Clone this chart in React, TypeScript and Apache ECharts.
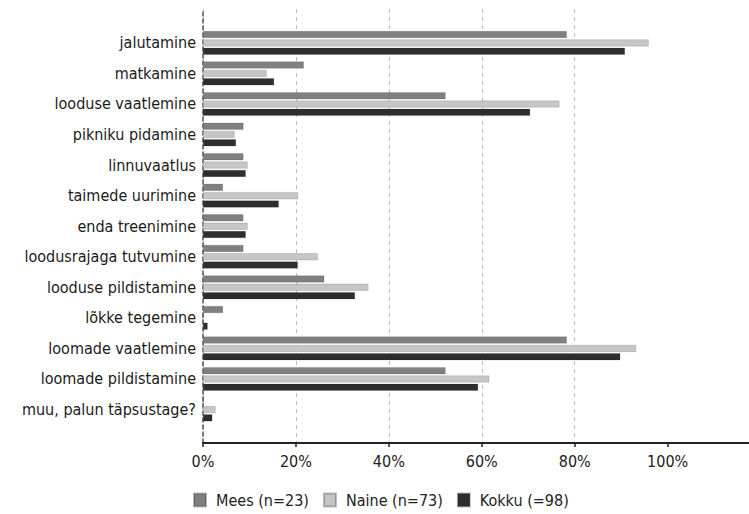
import React, { useEffect, useRef } from "react";
import * as echarts from "echarts";

const categories = [
  "jalutamine",
  "matkamine",
  "looduse vaatlemine",
  "pikniku pidamine",
  "linnuvaatlus",
  "taimede uurimine",
  "enda treenimine",
  "loodusrajaga tutvumine",
  "looduse pildistamine",
  "lõkke tegemine",
  "loomade vaatlemine",
  "loomade pildistamine",
  "muu, palun täpsustage?",
];

const seriesNames = ["Mees (n=23)", "Naine (n=73)", "Kokku (=98)"];
const mees = [78.3, 21.7, 52.2, 8.7, 8.7, 4.3, 8.7, 8.7, 26.1, 4.3, 78.3, 52.2, 0];
const naine = [95.9, 13.7, 76.7, 6.8, 9.6, 20.5, 9.6, 24.7, 35.6, 0, 93.2, 61.6, 2.7];
const kokku = [90.8, 15.3, 70.4, 7.1, 9.2, 16.3, 9.2, 20.4, 32.7, 1.0, 89.8, 59.2, 2.0];
const xTicks = [0, 20, 40, 60, 80, 100];
const xMax = 117.5;

const colors = ["#808080", "#c6c6c6", "#2e2e2e"];
const FONT = "DejaVu Sans Condensed";

export default function App() {
  const ref = useRef<HTMLDivElement>(null);
  useEffect(() => {
    const chart = echarts.init(ref.current!, undefined, { renderer: "svg" });
    const values = [mees, naine, kokku];
    chart.setOption({
      animation: false,
      grid: [
        { left: 203, right: 0, top: 9, bottom: 71 },
        { left: 203, right: 0, top: 27.6, bottom: 89.2 },
      ],
      legend: {
        bottom: 1,
        left: 188,
        itemWidth: 12,
        itemHeight: 13,
        itemGap: 14,
        icon: "rect",
        textStyle: { fontFamily: FONT, fontSize: 16, color: "#222", padding: [0, 0, 0, 5] },
        data: seriesNames,
      },
      xAxis: [
        {
          gridIndex: 0,
          type: "value",
          min: 0,
          max: xMax,
          interval: 20,
          axisLine: { show: true, lineStyle: { color: "#222", width: 2 } },
          axisTick: {
            show: true,
            length: 4,
            lineStyle: { color: "#222", width: 1.5 },
            customValues: xTicks,
          },
          axisLabel: {
            fontFamily: FONT,
            fontSize: 16,
            color: "#222",
            margin: 10,
            customValues: xTicks,
            formatter: (v: number) => v + "%",
          },
          splitLine: {
            show: true,
            showMaxLine: false,
            lineStyle: { color: "#bdbdbd", type: [4, 4], width: 1 },
          },
        },
        {
          gridIndex: 1,
          type: "value",
          min: 0,
          max: xMax,
          interval: 20,
          show: false,
          splitLine: { show: false },
        },
      ],
      yAxis: [
        {
          gridIndex: 0,
          type: "value",
          min: 0,
          max: 1,
          axisLine: { show: true, lineStyle: { color: "#555", type: [4, 3], width: 1.5 } },
          axisTick: { show: false },
          axisLabel: { show: false },
          splitLine: { show: false },
        },
        {
          gridIndex: 1,
          type: "category",
          inverse: true,
          data: categories,
          axisLine: { show: false },
          axisTick: { show: false },
          splitLine: { show: false },
          axisLabel: {
            fontFamily: FONT,
            fontSize: 16,
            color: "#1a1a1a",
            margin: 7,
            padding: [4, 0, 0, 0],
          },
        },
      ],
      series: seriesNames.map((name, s) => ({
        name,
        type: "bar",
        xAxisIndex: 1,
        yAxisIndex: 1,
        barWidth: 7,
        barGap: "19%",
        itemStyle: { color: colors[s], borderColor: "rgba(0,0,0,0.25)", borderWidth: 0.5 },
        data: values[s],
      })),
    });
    return () => chart.dispose();
  }, []);
  return (
    <div
      ref={ref}
      style={{ position: "fixed", left: 0, top: 0, width: 749, height: 514, background: "#fff" }}
    />
  );
}
